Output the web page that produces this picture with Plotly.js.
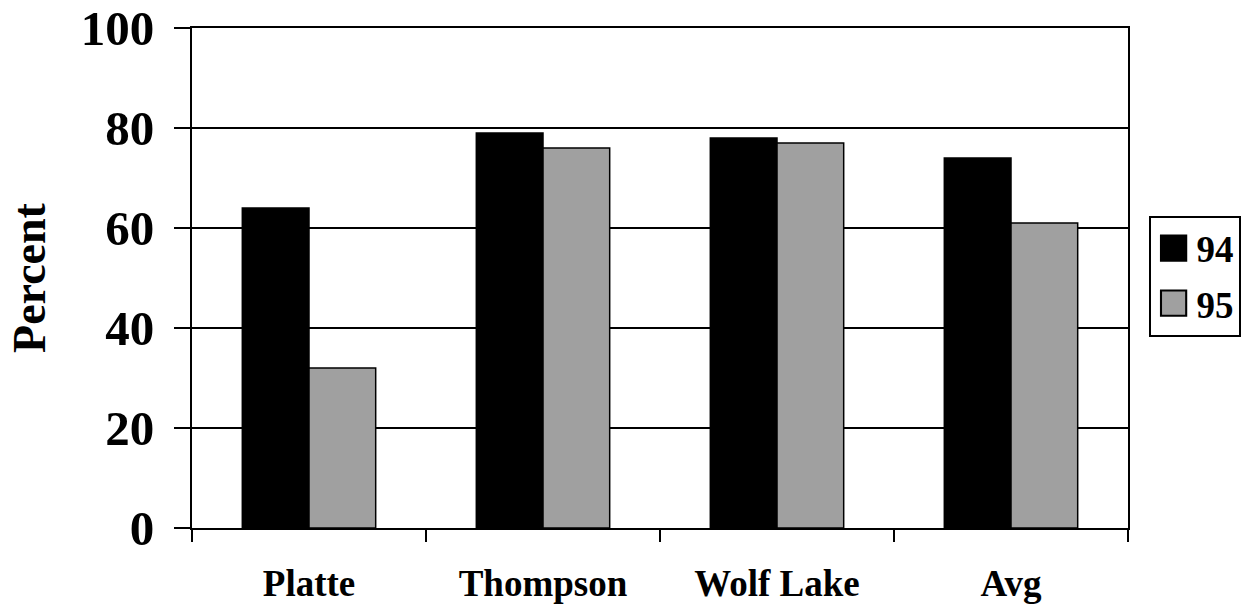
<!DOCTYPE html>
<html>
<head>
<meta charset="utf-8">
<script src="https://cdn.plot.ly/plotly-3.0.1.min.js"></script>
<style>html,body{margin:0;padding:0;background:#fff;}#chart{width:1243px;height:607px;}</style>
</head>
<body>
<div id="chart"></div>
<script>
const categories = ["Platte", "Thompson", "Wolf Lake", "Avg"];
const series94 = [64, 79, 78, 74];
const series95 = [32, 76, 77, 61];
const yTicks = [0, 20, 40, 60, 80, 100];

const font = "Liberation Serif, Times New Roman, serif";

const traces = [
  {type: "bar", name: "<b>94</b>", legendgroup: "a", x: categories, y: series94,
   marker: {color: "#000000", line: {color: "#000", width: 1.5}}},
  {type: "bar", name: "<b>95</b>", legendgroup: "b", x: categories, y: series95,
   marker: {color: "#a0a0a0", line: {color: "#000", width: 1.5}}}
];

const layout = {
  width: 1243, height: 607,
  margin: {l: 192, r: 115, t: 28, b: 79, autoexpand: false},
  paper_bgcolor: "#fff", plot_bgcolor: "#fff",
  barmode: "group", bargap: 0.43, bargroupgap: 0,
  font: {family: font, color: "#000"},
  showlegend: true,
  legend: {x: 1.022, xanchor: "left", y: 0.504, yanchor: "middle",
           bordercolor: "#000", borderwidth: 2, bgcolor: "#fff",
           font: {family: font, size: 37, color: "#000"},
           tracegroupgap: 4, itemwidth: 36},
  xaxis: {type: "category", tickson: "boundaries", ticks: "outside", ticklen: 12,
          tickwidth: 2, tickcolor: "#000", showline: true, mirror: true, linecolor: "#000", linewidth: 2,
          showgrid: false, tickfont: {family: font, size: 37, color: "#000", weight: "bold"},
          ticklabelstandoff: 22},
  yaxis: {range: [0, 100], tickvals: yTicks, ticktext: yTicks.map(v => "<b>" + v + "</b>"),
          ticks: "outside", ticklen: 16, tickwidth: 2, tickcolor: "#000",
          showline: true, mirror: true, linecolor: "#000", linewidth: 2,
          showgrid: true, gridcolor: "#000", gridwidth: 2, zeroline: false,
          tickfont: {family: font, size: 49, color: "#000"}, ticklabelstandoff: 10,
          title: {text: "<b>Percent</b>", font: {family: font, size: 46, color: "#000"}, standoff: 21}}
};

Plotly.newPlot("chart", traces, layout, {displayModeBar: false, staticPlot: true}).then(function (gd) {
  // enlarge legend swatches to match the reference's larger squares
  gd.querySelectorAll(".legendpoints path").forEach(function (p) {
    const t = p.getAttribute("transform") || "";
    p.setAttribute("transform", t + " scale(2.1)");
    p.style.strokeWidth = "1px";
  });
});
</script>
</body>
</html>
